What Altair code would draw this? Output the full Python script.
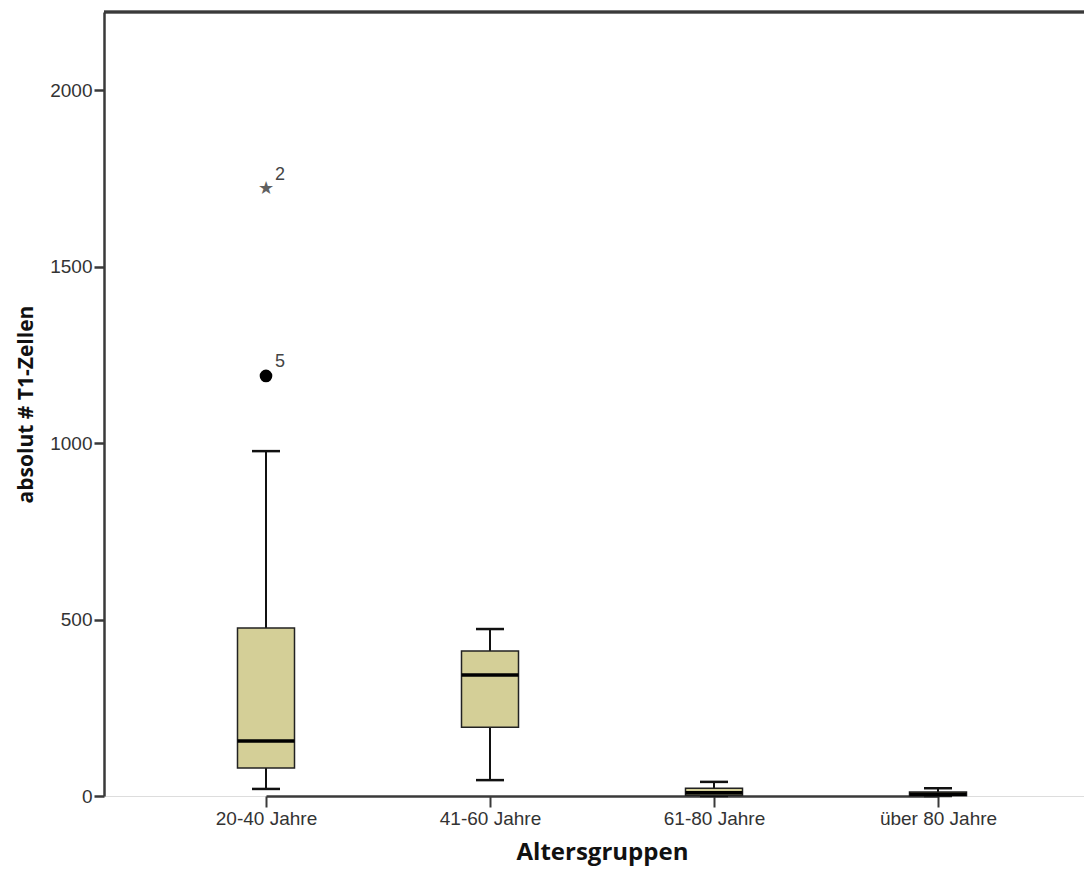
import altair as alt
import pandas as pd

groups = ["20-40 Jahre", "41-60 Jahre", "61-80 Jahre", "über 80 Jahre"]
whisker_low = [20, 45, 0, 0]
q1 = [79, 195, 2, 1]
median = [156, 343, 9, 5]
q3 = [476, 411, 22, 11]
whisker_high = [977, 473, 40, 22]

outlier_group = ["20-40 Jahre", "20-40 Jahre"]
outlier_value = [1720, 1190]
outlier_label = ["2", "5"]
outlier_kind = ["extreme", "mild"]

box = pd.DataFrame({"g": groups, "lo": whisker_low, "q1": q1, "med": median,
                    "q3": q3, "hi": whisker_high})
out = pd.DataFrame({"g": outlier_group, "v": outlier_value,
                    "lab": outlier_label, "kind": outlier_kind})

FILL = "#d4cf97"
LINE = "#111111"

x_enc = alt.X("g:N", sort=groups,
              scale=alt.Scale(type="point", range=[162, 834], padding=0),
              axis=alt.Axis(title="Altersgruppen", labelAngle=0, labelFontSize=19,
                            labelFont="Liberation Sans", labelColor="#333333",
                            titleFont="Open Sans", titleFontSize=24, titleFontWeight="bold",
                            titleColor="#111111", titlePadding=12,
                            domainColor="#3a3a3a", domainWidth=2.5,
                            tickColor="#3a3a3a", tickSize=11, tickWidth=2,
                            labelPadding=2, grid=False))
y_scale = alt.Scale(domain=[0, 2221], nice=False, zero=True)
y_axis = alt.Axis(title="absolut # T1-Zellen", values=[0, 500, 1000, 1500, 2000],
                  format="d",
                  labelFontSize=19, labelFont="Liberation Sans", labelColor="#333333",
                  titleFont="Open Sans", titleFontSize=21, titleFontWeight="bold",
                  titleColor="#111111", titlePadding=13,
                  domainColor="#3a3a3a", domainWidth=2.5,
                  tickColor="#3a3a3a", tickSize=10, tickWidth=2.5,
                  labelPadding=2, grid=False)

base = alt.Chart(box)

whisk_lo = base.mark_rule(color=LINE, strokeWidth=2, opacity=1).encode(
    x=x_enc, y=alt.Y("lo:Q", scale=y_scale, axis=y_axis), y2="q1:Q")
whisk_hi = base.mark_rule(color=LINE, strokeWidth=2, opacity=1).encode(
    x=alt.X("g:N", sort=groups), y=alt.Y("q3:Q"), y2="hi:Q")
cap_lo = base.mark_tick(color=LINE, size=28, thickness=2.5, opacity=1).encode(
    x=alt.X("g:N", sort=groups), y=alt.Y("lo:Q"))
cap_hi = base.mark_tick(color=LINE, size=28, thickness=2.5, opacity=1).encode(
    x=alt.X("g:N", sort=groups), y=alt.Y("hi:Q"))
boxes = base.mark_bar(size=57, color=FILL, stroke="#222222", strokeWidth=1.5,
                      opacity=1).encode(
    x=alt.X("g:N", sort=groups), y=alt.Y("q1:Q"), y2="q3:Q")
med = base.mark_tick(color="#000000", size=57, thickness=3.5, opacity=1).encode(
    x=alt.X("g:N", sort=groups), y=alt.Y("med:Q"))

mild = alt.Chart(out).transform_filter(alt.datum.kind == "mild").mark_circle(
    color="#000000", size=160, opacity=1).encode(
    x=alt.X("g:N", sort=groups), y=alt.Y("v:Q"))
extreme = alt.Chart(out).transform_filter(alt.datum.kind == "extreme").mark_text(
    text="★", fontSize=18, color="#606060", font="DejaVu Sans").encode(
    x=alt.X("g:N", sort=groups), y=alt.Y("v:Q"))
labels = alt.Chart(out).mark_text(align="left", dx=9, dy=-14, fontSize=18,
                                  font="Liberation Sans", color="#444444").encode(
    x=alt.X("g:N", sort=groups), y=alt.Y("v:Q"), text="lab:N")

top_border = alt.Chart(box).mark_rule(color="#3a3a3a", strokeWidth=2.5).encode(
    x=alt.value(0), x2=alt.value(980), y=alt.value(0))

chart = alt.layer(whisk_lo, whisk_hi, cap_lo, cap_hi, boxes, med, mild, extreme,
                  labels, top_border).properties(
    width=980, height=784,
    autosize=alt.AutoSizeParams(type="none"),
    padding={"left": 96, "top": 4, "right": 0, "bottom": 76},
).configure_view(stroke=None, fill="#efefef").configure(background="white")

chart.save("out.html", embed_options={"renderer": "svg", "actions": False})
